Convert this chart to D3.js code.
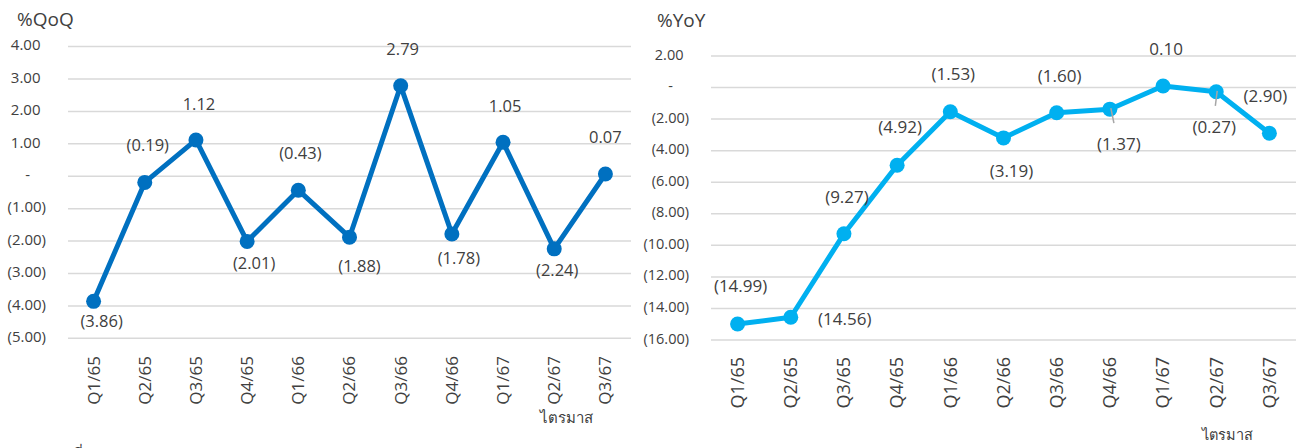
<!DOCTYPE html>
<html>
<head>
<meta charset="utf-8">
<script src="https://cdn.jsdelivr.net/npm/d3@7"></script>
<style>
  body { margin: 0; background: #fff; }
  svg { display: block; font-family: "Open Sans", "Noto Sans", sans-serif; }
</style>
</head>
<body>
<div id="chart"></div>
<script>

// categories and values
const quarters = ["Q1/65","Q2/65","Q3/65","Q4/65","Q1/66","Q2/66","Q3/66","Q4/66","Q1/67","Q2/67","Q3/67"];
const qoqValues = [-3.86, -0.19, 1.12, -2.01, -0.43, -1.88, 2.79, -1.78, 1.05, -2.24, 0.07];
const yoyValues = [-14.99, -14.56, -9.27, -4.92, -1.53, -3.19, -1.60, -1.37, 0.10, -0.27, -2.90];
const qoqTicks = [4, 3, 2, 1, 0, -1, -2, -3, -4, -5];
const yoyTicks = [2, 0, -2, -4, -6, -8, -10, -12, -14, -16];

// where each data label sits relative to its point [dx, dy, leader]
const qoqLabelPos = [[8,20],[3,-37],[3,-36],[7,22],[2,-37],[10,29],[2,-37],[7,24],[2,-36],[3,21],[0,-37]];
const yoyLabelPos = [[3,-38],[54,2],[3,-37],[3,-38],[3,-38],[8,33],[3,-37],[9,35,1],[3,-37],[-2,35,1],[-4,-37]];

const textColor = "#404040";

let svg = d3.select("#chart")
  .append("svg")
  .attr("width", 1296)
  .attr("height", 448);

// excel accounting style numbers
function fmt(v){
  if (v == 0) return "-";
  if (v < 0) return "(" + d3.format(".2f")(-v) + ")";
  return d3.format(".2f")(v);
}

function drawChart(opt){

  let x = d3.scaleBand()
    .domain(quarters)
    .range([opt.x0, opt.x1]);

  let y = d3.scaleLinear()
    .domain(d3.extent(opt.ticks))
    .range([opt.yBottom, opt.yTop]);

  let g = svg.append("g");

  // gridlines
  g.selectAll(".grid")
    .data(opt.ticks)
    .enter()
    .append("line")
    .attr("x1", opt.x0)
    .attr("x2", opt.x1)
    .attr("y1", d => y(d))
    .attr("y2", d => y(d))
    .attr("stroke", "#d9d9d9")
    .attr("stroke-width", 1.5);

  // y tick labels
  g.selectAll(".ytick")
    .data(opt.ticks)
    .enter()
    .append("text")
    .attr("x", d => d < 0 ? opt.tickX : (d == 0 ? opt.tickX - 16 : opt.tickX - 5.5))
    .attr("y", d => y(d) - 1.5)
    .attr("dy", "0.35em")
    .attr("text-anchor", "end")
    .attr("fill", textColor)
    .style("font-size", opt.tickFont + "px")
    .text(fmt);

  // x labels, rotated
  g.selectAll(".xlab")
    .data(quarters)
    .enter()
    .append("text")
    .attr("transform", d => "translate(" + (x(d) + x.bandwidth()/2) + "," + opt.xLabY + ") rotate(-90)")
    .attr("dy", "0.35em")
    .attr("text-anchor", "end")
    .attr("fill", textColor)
    .style("font-size", opt.xFont + "px")
    .text(d => d);

  // axis titles
  g.append("text")
    .attr("x", opt.titleX)
    .attr("y", opt.titleY)
    .attr("fill", textColor)
    .style("font-size", "19px")
    .text(opt.title);

  g.append("text")
    .attr("x", opt.unitX)
    .attr("y", opt.unitY)
    .attr("fill", textColor)
    .style("font-size", opt.tickFont + "px")
    .text("ไตรมาส");

  let pts = opt.values.map((v, i) => ({q: quarters[i], v: v, pos: opt.labelPos[i]}));

  let line = d3.line()
    .x(d => x(d.q) + x.bandwidth()/2)
    .y(d => y(d.v));

  g.append("path")
    .datum(pts)
    .attr("d", line)
    .attr("fill", "none")
    .attr("stroke", opt.color)
    .attr("stroke-width", 5)
    .attr("stroke-linejoin", "round");

  g.selectAll(".dot")
    .data(pts)
    .enter()
    .append("circle")
    .attr("cx", d => x(d.q) + x.bandwidth()/2)
    .attr("cy", d => y(d.v))
    .attr("r", 7.5)
    .attr("fill", opt.color);

  // leader lines for dragged labels
  g.selectAll(".leader")
    .data(pts.filter(d => d.pos[2]))
    .enter()
    .append("line")
    .attr("x1", d => x(d.q) + x.bandwidth()/2 + 1)
    .attr("y1", d => y(d.v) - 1)
    .attr("x2", d => x(d.q) + x.bandwidth()/2 + d.pos[0]*0.45)
    .attr("y2", d => y(d.v) + 14)
    .attr("stroke", "#a6a6a6")
    .attr("stroke-width", 1.5);

  g.selectAll(".lab")
    .data(pts)
    .enter()
    .append("text")
    .attr("x", d => x(d.q) + x.bandwidth()/2 + d.pos[0])
    .attr("y", d => y(d.v) + d.pos[1])
    .attr("dy", "0.35em")
    .attr("text-anchor", "middle")
    .attr("fill", textColor)
    .style("font-size", opt.labFont + "px")
    .text(d => fmt(d.v));
}

drawChart({
  values: qoqValues, ticks: qoqTicks, labelPos: qoqLabelPos,
  color: "#0070c0", title: "%QoQ",
  x0: 68, x1: 631, yTop: 46.6, yBottom: 338.3,
  tickX: 46, tickFont: 15, labFont: 16.5, xFont: 17, xLabY: 356,
  titleX: 17, titleY: 26, unitX: 540, unitY: 423
});

drawChart({
  values: yoyValues, ticks: yoyTicks, labelPos: yoyLabelPos,
  color: "#00b0f0", title: "%YoY",
  x0: 711, x1: 1296, yTop: 56, yBottom: 340,
  tickX: 689, tickFont: 14.5, labFont: 17, xFont: 18, xLabY: 357,
  titleX: 657, titleY: 27, unitX: 1202, unitY: 440
});

// source line, mostly below the bottom edge
svg.append("text")
  .attr("x", 72)
  .attr("y", 460)
  .attr("fill", textColor)
  .style("font-size", "16px")
  .text("ที่มา");

</script>
</body>
</html>
